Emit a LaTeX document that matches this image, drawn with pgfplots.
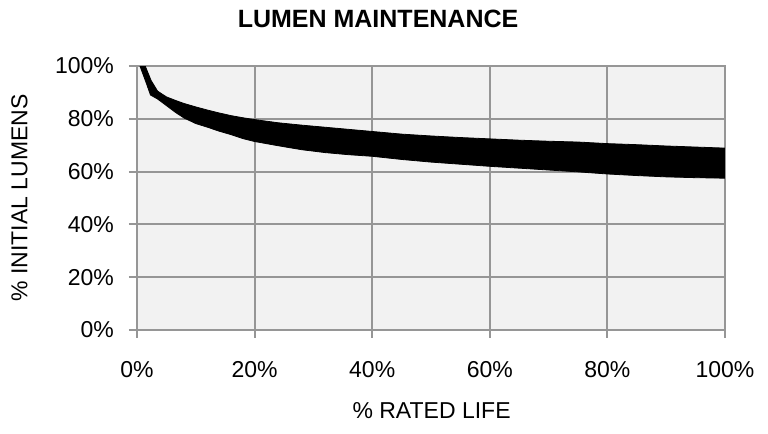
\documentclass[border=0pt]{standalone}
\usepackage{pgfplots}
\pgfplotsset{compat=1.18}
\usepgfplotslibrary{fillbetween}
\usepackage{fontspec}
\setmainfont{Liberation Sans}
\definecolor{gridgray}{RGB}{150,150,150}
\definecolor{plotbg}{RGB}{242,242,242}
\begin{document}
\begin{tikzpicture}
\begin{axis}[
  at={(0,0)}, anchor=south west,
  scale only axis,
  width=294pt, height=132pt,
  xmin=0, xmax=100, ymin=0, ymax=100,
  axis background/.style={fill=plotbg},
  axis line style={gridgray, line width=1pt},
  grid=major,
  major grid style={gridgray, line width=1pt},
  tick style={gridgray, line width=1pt},
  tick align=outside,
  major tick length=4pt,
  xtick={0,20,40,60,80,100},
  xticklabels={0\%,20\%,40\%,60\%,80\%,100\%},
  ytick={0,20,40,60,80,100},
  yticklabels={0\%,20\%,40\%,60\%,80\%,100\%},
  xtick pos=bottom, ytick pos=left,
  ticklabel style={font=\fontsize{11.5}{13}\selectfont, text=black},
  xticklabel style={yshift=-8pt},
  yticklabel style={xshift=-4pt},
  title={\textbf{LUMEN MAINTENANCE}},
  title style={font=\fontsize{12.5}{14}\selectfont, at={(axis description cs:0.41,1.133)}, anchor=center},
  xlabel={\% RATED LIFE},
  xlabel style={font=\fontsize{11.5}{13}\selectfont, at={(axis description cs:0.501,-0.307)}, anchor=center},
  ylabel={\% INITIAL LUMENS},
  ylabel style={font=\fontsize{11.5}{13}\selectfont, at={(axis description cs:-0.2,0.5)}, anchor=center},
]
\addplot[name path=upper, black, line width=0.4pt] coordinates {
(0.5,100) (1.4,100) (2.4,94.5) (3.5,90.5) (5,88.3) (6.5,87) (8,85.8) (10,84.5)
(12,83.3) (14,82.2) (16,81.2) (18,80.4) (20,79.7) (24,78.5) (28,77.6) (32,76.8)
(36,76) (40,75.2) (45,74.2) (50,73.5) (55,72.9) (60,72.4) (65,71.9) (70,71.5)
(75,71.2) (80,70.6) (85,70.2) (90,69.7) (95,69.3) (100,68.9)
};
\addplot[name path=lower, black, line width=0.4pt] coordinates {
(0.5,100) (1.5,94) (2.3,89) (3.5,87.5) (5,85) (6.5,82.5) (8,80.3) (10,78.2)
(12,76.8) (14,75.3) (16,74) (18,72.5) (20,71.4) (24,69.8) (28,68.3) (32,67.2)
(36,66.4) (40,65.8) (45,64.6) (50,63.6) (55,62.8) (60,62) (65,61.3) (70,60.6)
(75,59.9) (80,59.1) (85,58.5) (90,58) (95,57.7) (100,57.5)
};
\addplot[black] fill between[of=upper and lower];
\end{axis}
\path (-68.5pt,-52pt) rectangle (315.5pt,165pt);
\end{tikzpicture}
\end{document}
